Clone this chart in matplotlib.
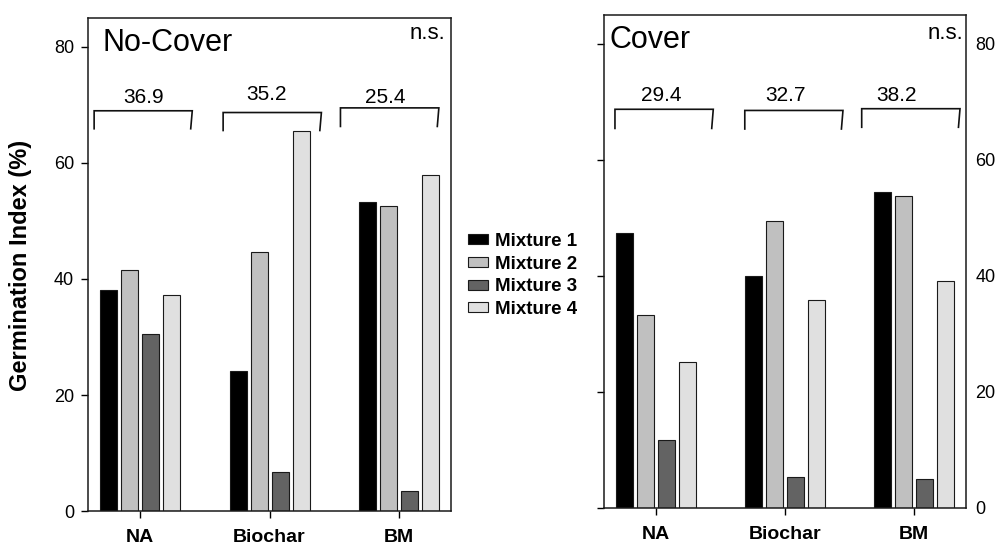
import numpy as np
import matplotlib
matplotlib.use("Agg")
import matplotlib.pyplot as plt
from matplotlib.patches import Patch

plt.rcParams['font.family'] = ['Liberation Sans', 'DejaVu Sans']

# data
treatments = ['NA', 'Biochar', 'BM']
mixtures = ['Mixture 1', 'Mixture 2', 'Mixture 3', 'Mixture 4']
colors = ['#000000', '#c0c0c0', '#636363', '#e0e0e0']

nocover = [[38.1, 24.1, 53.2],
           [41.6, 44.7, 52.5],
           [30.6, 6.7, 3.5],
           [37.3, 65.6, 57.9]]
cover = [[47.3, 40.0, 54.5],
         [33.3, 49.4, 53.7],
         [11.8, 5.3, 5.0],
         [25.1, 35.9, 39.1]]

nocover_means = ['36.9', '35.2', '25.4']
cover_means = ['29.4', '32.7', '38.2']

# bracket geometry (x from / to relative to group, y top / leg bottom, label x / y)
nocover_br = [(-0.353, 0.404, 69.0, 65.9, 0.026, 70.3),
              (-0.358, 0.400, 68.7, 65.6, -0.027, 70.8),
              (-0.453, 0.306, 69.5, 66.3, -0.107, 70.4)]
cover_br = [(-0.315, 0.446, 68.7, 65.4, 0.046, 70.2),
            (-0.310, 0.450, 68.5, 65.3, 0.005, 70.2),
            (-0.405, 0.356, 68.8, 65.6, -0.134, 70.2)]

fig = plt.figure(figsize=(9.97, 5.48), dpi=100)
ax1 = fig.add_axes([0.0883, 0.0675, 0.3641, 0.8997])
ax2 = fig.add_axes([0.6058, 0.0730, 0.3628, 0.9002])

x = np.arange(len(treatments))
step = 0.162
width = 0.131


def draw_panel(ax, vals, means, brs, title, right_labels):
    for i, v in enumerate(vals):
        ax.bar(x + (i - 1.5) * step, v, width, color=colors[i],
               edgecolor='#1a1a1a', linewidth=0.8, zorder=2)
    for j, (xa, xb, yt, yb, lx, ly) in enumerate(brs):
        ax.plot([x[j] + xa, x[j] + xa, x[j] + xb, x[j] + xb - 0.012],
                [yb, yt, yt, yb], color='#111111', lw=1.2,
                solid_joinstyle='miter')
        ax.text(x[j] + lx, ly, means[j], ha='center', va='baseline',
                fontsize=15)
    ax.set_xlim(-0.4, 2.4)
    ax.set_ylim(0, 85)
    ax.set_yticks([0, 20, 40, 60, 80])
    ax.set_xticks(x)
    ax.set_xticklabels(treatments, fontsize=14, fontweight='bold')
    for s in ax.spines.values():
        s.set_linewidth(1.1)
        s.set_color('#1a1a1a')
    ax.tick_params(axis='x', direction='out', length=5, width=1,
                   pad=8, top=False)
    if right_labels:
        ax.tick_params(axis='y', direction='out', length=5, width=1,
                       left=True, right=False, labelleft=False,
                       labelright=True, labelsize=13, pad=2)
        ax.text(0.014, 0.932, title, transform=ax.transAxes, fontsize=22,
                ha='left', va='baseline')
        ax.text(0.993, 0.951, 'n.s.', transform=ax.transAxes, fontsize=16,
                ha='right', va='baseline')
    else:
        ax.tick_params(axis='y', direction='out', length=5, width=1,
                       labelsize=13, pad=5)
        ax.text(0.0386, 0.934, title, transform=ax.transAxes, fontsize=22,
                ha='left', va='baseline')
        ax.text(0.983, 0.957, 'n.s.', transform=ax.transAxes, fontsize=16,
                ha='right', va='baseline')


draw_panel(ax1, nocover, nocover_means, nocover_br, 'No-Cover', False)
draw_panel(ax2, cover, cover_means, cover_br, 'Cover', True)

fig.text(0.0205, 0.516, 'Germination Index (%)', rotation=90,
         fontsize=17, fontweight='bold', ha='center', va='center')

handles = [Patch(facecolor=c, edgecolor='#1a1a1a', linewidth=0.8) for c in colors]
fig.legend(handles, mixtures, loc='upper left',
           bbox_to_anchor=(468 / 997, 1 - 233 / 548), frameon=False,
           borderpad=0, borderaxespad=0, handlelength=1.05, handleheight=0.45,
           handletextpad=0.4, labelspacing=0.3,
           prop={'size': 13.5, 'weight': 'bold'})

fig.savefig('out.png', dpi=100)
